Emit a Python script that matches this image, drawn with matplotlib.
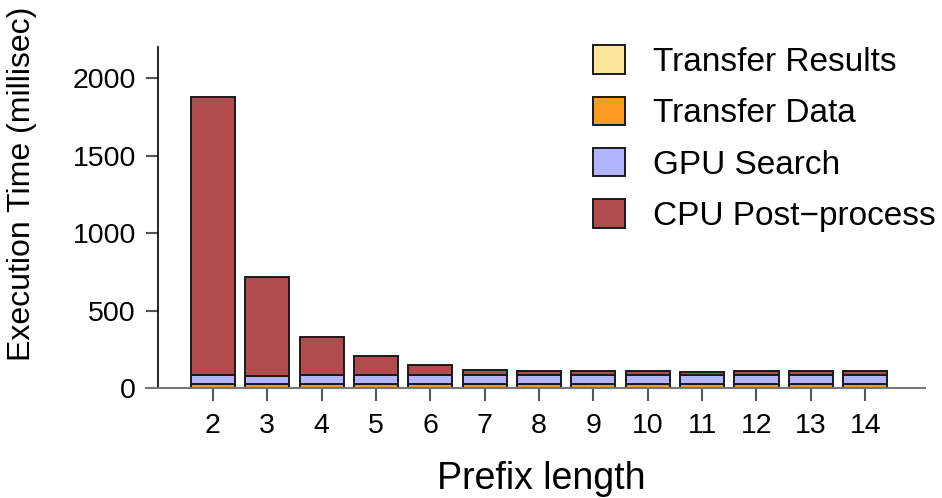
import matplotlib
matplotlib.use('Agg')
import matplotlib.pyplot as plt
import matplotlib.patches as mpatches
import numpy as np

plt.rcParams['font.family'] = ['Liberation Sans', 'DejaVu Sans']

# ── data ──
prefix_len = [2, 3, 4, 5, 6, 7, 8, 9, 10, 11, 12, 13, 14]
transfer_results = [2, 2, 2, 2, 2, 2, 2, 2, 2, 2, 2, 2, 2]
transfer_data = [23, 23, 23, 23, 23, 23, 23, 23, 23, 23, 23, 23, 23]
gpu_search = [57, 50, 57, 57, 57, 57, 57, 57, 57, 57, 57, 57, 57]
cpu_post = [1795, 641, 247, 124, 64, 36, 26, 26, 26, 21, 26, 26, 26]

series = [
    ('Transfer Results', transfer_results, '#FFE59A'),
    ('Transfer Data', transfer_data, '#FF9A22'),
    ('GPU Search', gpu_search, '#B3B3FF'),
    ('CPU Post\u2212process', cpu_post, '#B04B4E'),
]

W, H = 942, 498
fig = plt.figure(figsize=(W / 100, H / 100), dpi=100)
ax = fig.add_axes([158 / W, 1 - 388 / H, (925 - 158) / W, (388 - 47) / H])

x = np.arange(len(prefix_len))
bottom = np.zeros(len(prefix_len))
for name, vals, col in series:
    ax.bar(x, vals, width=0.81, bottom=bottom, color=col, edgecolor='#1a1a1a',
           linewidth=1.4, zorder=3)
    bottom += np.array(vals)

ax.set_xlim(-1.01, 13.1)
ax.set_ylim(0, 2200)

# baseline at zero running a little past the y axis
ax.plot([-1.23, 13.1], [0, 0], color='#777777', lw=1.5, clip_on=False, zorder=4)

for s in ['top', 'right', 'bottom']:
    ax.spines[s].set_visible(False)
ax.spines['left'].set_linewidth(1.2)
ax.spines['left'].set_color('black')

ax.set_yticks([0, 500, 1000, 1500, 2000])
ax.set_xticks(x)
ax.set_xticklabels([str(p) for p in prefix_len])
ax.tick_params(axis='both', length=9, width=1.5, color='#555555', labelsize=20.5, pad=7)
ax.tick_params(axis='x', pad=9)

ax.set_xlabel('Prefix length', fontsize=27, labelpad=16)
fig.text(22 / W, 1 - 184 / H, 'Execution Time (millisec)', rotation=90,
         ha='center', va='center', fontsize=23)

# legend, listed top to bottom as in the stack key
handles = [mpatches.Patch(facecolor=col, edgecolor='#1a1a1a', linewidth=1.4, label=name)
           for name, vals, col in series]
fig.legend(handles=handles, loc='upper left', bbox_to_anchor=(580 / W, 1 - 32 / H),
           frameon=False, fontsize=24, handlelength=0.95, handleheight=0.95,
           handletextpad=0.85, labelspacing=0.55, borderaxespad=0)

fig.savefig('out.png', dpi=100, facecolor='white')
